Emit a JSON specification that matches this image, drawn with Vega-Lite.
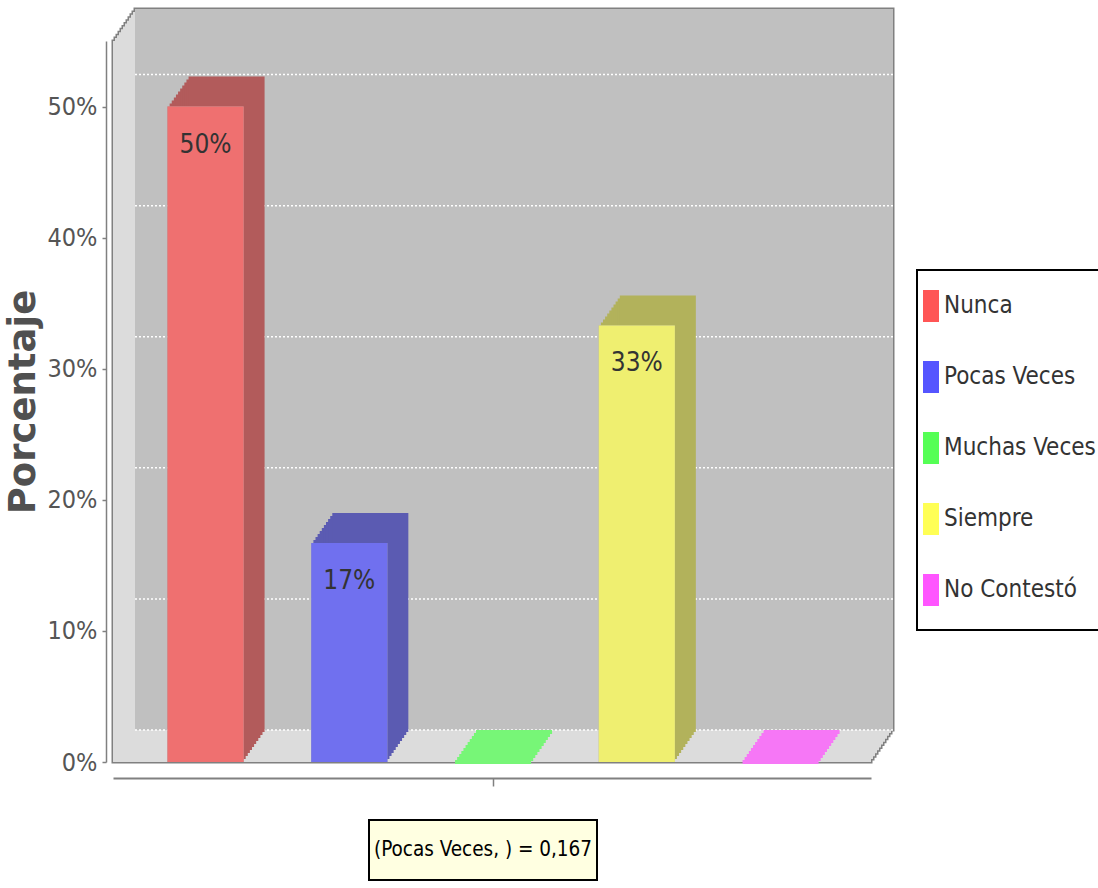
{
"$schema": "https://vega.github.io/schema/vega-lite/v6.json",
"width": 758, "height": 721,
"autosize": {"type": "none"},
"padding": {"left": 113, "top": 41, "right": 227, "bottom": 126},
"background": "white",
"config": {"view": {"stroke": null}, "font": "DejaVu Sans Condensed"},
"data": {"values": [
 {"serie": "Nunca", "valor": 0.5},
 {"serie": "Pocas Veces", "valor": 0.167},
 {"serie": "Muchas Veces", "valor": 0},
 {"serie": "Siempre", "valor": 0.333},
 {"serie": "No Contestó", "valor": 0}
]},
"resolve": {"scale": {"x": "independent"}, "axis": {"x": "independent", "y": "independent"}},
"layer": [
 {"transform": [{"aggregate": [{"op": "count", "as": "n"}]}],
  "encoding": {
   "x": {"datum": 0, "type": "quantitative", "scale": {"domain": [0, 1], "nice": false, "zero": false}, "axis": null},
   "x2": {"datum": 1},
   "y": {"datum": 0, "type": "quantitative", "axis": null},
   "y2": {"datum": 0.55}
  },
  "layer": [
   {"mark": {"type": "rect", "fill": "#dcdcdc", "stroke": "#808080", "strokeWidth": 3, "xOffset": 0, "x2Offset": 0, "yOffset": 0, "y2Offset": 0}},
   {"mark": {"type": "rect", "fill": "#dcdcdc", "stroke": "#808080", "strokeWidth": 3, "xOffset": 2, "x2Offset": 2, "yOffset": -2.91, "y2Offset": -2.91}},
   {"mark": {"type": "rect", "fill": "#dcdcdc", "stroke": "#808080", "strokeWidth": 3, "xOffset": 4, "x2Offset": 4, "yOffset": -5.82, "y2Offset": -5.82}},
   {"mark": {"type": "rect", "fill": "#dcdcdc", "stroke": "#808080", "strokeWidth": 3, "xOffset": 6, "x2Offset": 6, "yOffset": -8.73, "y2Offset": -8.73}},
   {"mark": {"type": "rect", "fill": "#dcdcdc", "stroke": "#808080", "strokeWidth": 3, "xOffset": 8, "x2Offset": 8, "yOffset": -11.64, "y2Offset": -11.64}},
   {"mark": {"type": "rect", "fill": "#dcdcdc", "stroke": "#808080", "strokeWidth": 3, "xOffset": 10, "x2Offset": 10, "yOffset": -14.55, "y2Offset": -14.55}},
   {"mark": {"type": "rect", "fill": "#dcdcdc", "stroke": "#808080", "strokeWidth": 3, "xOffset": 12, "x2Offset": 12, "yOffset": -17.45, "y2Offset": -17.45}},
   {"mark": {"type": "rect", "fill": "#dcdcdc", "stroke": "#808080", "strokeWidth": 3, "xOffset": 14, "x2Offset": 14, "yOffset": -20.36, "y2Offset": -20.36}},
   {"mark": {"type": "rect", "fill": "#dcdcdc", "stroke": "#808080", "strokeWidth": 3, "xOffset": 16, "x2Offset": 16, "yOffset": -23.27, "y2Offset": -23.27}},
   {"mark": {"type": "rect", "fill": "#dcdcdc", "stroke": "#808080", "strokeWidth": 3, "xOffset": 18, "x2Offset": 18, "yOffset": -26.18, "y2Offset": -26.18}},
   {"mark": {"type": "rect", "fill": "#dcdcdc", "stroke": "#808080", "strokeWidth": 3, "xOffset": 20, "x2Offset": 20, "yOffset": -29.09, "y2Offset": -29.09}},
   {"mark": {"type": "rect", "fill": "#dcdcdc", "stroke": "#808080", "strokeWidth": 3, "xOffset": 22, "x2Offset": 22, "yOffset": -32, "y2Offset": -32}},
   {"mark": {"type": "rect", "fill": "#dcdcdc", "xOffset": 0, "x2Offset": 0, "yOffset": 0, "y2Offset": 0}},
   {"mark": {"type": "rect", "fill": "#dcdcdc", "xOffset": 2, "x2Offset": 2, "yOffset": -2.91, "y2Offset": -2.91}},
   {"mark": {"type": "rect", "fill": "#dcdcdc", "xOffset": 4, "x2Offset": 4, "yOffset": -5.82, "y2Offset": -5.82}},
   {"mark": {"type": "rect", "fill": "#dcdcdc", "xOffset": 6, "x2Offset": 6, "yOffset": -8.73, "y2Offset": -8.73}},
   {"mark": {"type": "rect", "fill": "#dcdcdc", "xOffset": 8, "x2Offset": 8, "yOffset": -11.64, "y2Offset": -11.64}},
   {"mark": {"type": "rect", "fill": "#dcdcdc", "xOffset": 10, "x2Offset": 10, "yOffset": -14.55, "y2Offset": -14.55}},
   {"mark": {"type": "rect", "fill": "#dcdcdc", "xOffset": 12, "x2Offset": 12, "yOffset": -17.45, "y2Offset": -17.45}},
   {"mark": {"type": "rect", "fill": "#dcdcdc", "xOffset": 14, "x2Offset": 14, "yOffset": -20.36, "y2Offset": -20.36}},
   {"mark": {"type": "rect", "fill": "#dcdcdc", "xOffset": 16, "x2Offset": 16, "yOffset": -23.27, "y2Offset": -23.27}},
   {"mark": {"type": "rect", "fill": "#dcdcdc", "xOffset": 18, "x2Offset": 18, "yOffset": -26.18, "y2Offset": -26.18}},
   {"mark": {"type": "rect", "fill": "#dcdcdc", "xOffset": 20, "x2Offset": 20, "yOffset": -29.09, "y2Offset": -29.09}},
   {"mark": {"type": "rect", "fill": "#dcdcdc", "xOffset": 22, "x2Offset": 22, "yOffset": -32, "y2Offset": -32}},
   {"mark": {"type": "rect", "fill": "#c0c0c0", "xOffset": 22, "x2Offset": 22, "yOffset": -32, "y2Offset": -32}},
   {"mark": {"type": "rule", "color": "#ffffff", "strokeWidth": 1.5, "strokeDash": [2, 2], "xOffset": 22, "x2Offset": 22, "yOffset": -32},
    "encoding": {"y": {"datum": 0, "type": "quantitative", "axis": null}, "y2": null}},
   {"mark": {"type": "rule", "color": "#ffffff", "strokeWidth": 1.5, "strokeDash": [2, 2], "xOffset": 22, "x2Offset": 22, "yOffset": -32},
    "encoding": {"y": {"datum": 0.1, "type": "quantitative", "axis": null}, "y2": null}},
   {"mark": {"type": "rule", "color": "#ffffff", "strokeWidth": 1.5, "strokeDash": [2, 2], "xOffset": 22, "x2Offset": 22, "yOffset": -32},
    "encoding": {"y": {"datum": 0.2, "type": "quantitative", "axis": null}, "y2": null}},
   {"mark": {"type": "rule", "color": "#ffffff", "strokeWidth": 1.5, "strokeDash": [2, 2], "xOffset": 22, "x2Offset": 22, "yOffset": -32},
    "encoding": {"y": {"datum": 0.3, "type": "quantitative", "axis": null}, "y2": null}},
   {"mark": {"type": "rule", "color": "#ffffff", "strokeWidth": 1.5, "strokeDash": [2, 2], "xOffset": 22, "x2Offset": 22, "yOffset": -32},
    "encoding": {"y": {"datum": 0.4, "type": "quantitative", "axis": null}, "y2": null}},
   {"mark": {"type": "rule", "color": "#ffffff", "strokeWidth": 1.5, "strokeDash": [2, 2], "xOffset": 22, "x2Offset": 22, "yOffset": -32},
    "encoding": {"y": {"datum": 0.5, "type": "quantitative", "axis": null}, "y2": null}}
  ]
 },
 {"encoding": {
   "x": {"field": "serie", "type": "nominal",
         "sort": ["Nunca", "Pocas Veces", "Muchas Veces", "Siempre", "No Contestó"],
         "scale": {"domain": ["Nunca", "Pocas Veces", "Muchas Veces", "Siempre", "No Contestó"], "paddingInner": 0.471, "paddingOuter": 0.372, "align": 0.51},
         "axis": {"orient": "bottom", "offset": 16, "values": ["Muchas Veces"], "labels": false, "ticks": true, "tickSize": 8, "tickColor": "#808080", "tickWidth": 1.5, "domainColor": "#808080", "domainWidth": 2, "title": null, "grid": false}},
   "y": {"field": "valor", "type": "quantitative",
         "scale": {"domain": [0, 0.55], "nice": false, "zero": true},
         "axis": {"orient": "left", "offset": 7, "values": [0, 0.1, 0.2, 0.3, 0.4, 0.5], "format": ".0%", "grid": false,
                  "domainColor": "#808080", "domainWidth": 1.5, "tickColor": "#808080", "tickSize": 4, "tickWidth": 1.5,
                  "labelFont": "DejaVu Sans Condensed", "labelFontSize": 25, "labelColor": "#555555", "labelPadding": 5,
                  "title": "Porcentaje", "titleFont": "DejaVu Sans", "titleFontWeight": "bold", "titleFontSize": 37, "titleColor": "#505050", "titlePadding": 5}}
  },
  "layer": [
   {"mark": {"type": "bar", "strokeWidth": 4, "xOffset": 0, "x2Offset": 0, "yOffset": 0, "y2Offset": 0},
    "encoding": {"fill": {"field": "serie", "type": "nominal", "sort": "ascending", "scale": {"range": ["#77f677", "#f677f6", "#b25b5b", "#5b5bb2", "#b2b25b"]}, "legend": null},
                 "stroke": {"field": "serie", "type": "nominal", "sort": "ascending", "scale": {"range": ["#77f677", "#f677f6", "#b25b5b", "#5b5bb2", "#b2b25b"]}, "legend": null},
                 "strokeOpacity": {"condition": {"test": "datum.valor == 0", "value": 1}, "value": 0}}},
   {"mark": {"type": "bar", "strokeWidth": 4, "xOffset": 2.1, "x2Offset": 2.1, "yOffset": -3, "y2Offset": -3},
    "encoding": {"fill": {"field": "serie", "type": "nominal", "sort": "ascending", "legend": null}, "stroke": {"field": "serie", "type": "nominal", "sort": "ascending", "legend": null},
                 "strokeOpacity": {"condition": {"test": "datum.valor == 0", "value": 1}, "value": 0}}},
   {"mark": {"type": "bar", "strokeWidth": 4, "xOffset": 4.2, "x2Offset": 4.2, "yOffset": -6, "y2Offset": -6},
    "encoding": {"fill": {"field": "serie", "type": "nominal", "sort": "ascending", "legend": null}, "stroke": {"field": "serie", "type": "nominal", "sort": "ascending", "legend": null},
                 "strokeOpacity": {"condition": {"test": "datum.valor == 0", "value": 1}, "value": 0}}},
   {"mark": {"type": "bar", "strokeWidth": 4, "xOffset": 6.3, "x2Offset": 6.3, "yOffset": -9, "y2Offset": -9},
    "encoding": {"fill": {"field": "serie", "type": "nominal", "sort": "ascending", "legend": null}, "stroke": {"field": "serie", "type": "nominal", "sort": "ascending", "legend": null},
                 "strokeOpacity": {"condition": {"test": "datum.valor == 0", "value": 1}, "value": 0}}},
   {"mark": {"type": "bar", "strokeWidth": 4, "xOffset": 8.4, "x2Offset": 8.4, "yOffset": -12, "y2Offset": -12},
    "encoding": {"fill": {"field": "serie", "type": "nominal", "sort": "ascending", "legend": null}, "stroke": {"field": "serie", "type": "nominal", "sort": "ascending", "legend": null},
                 "strokeOpacity": {"condition": {"test": "datum.valor == 0", "value": 1}, "value": 0}}},
   {"mark": {"type": "bar", "strokeWidth": 4, "xOffset": 10.5, "x2Offset": 10.5, "yOffset": -15, "y2Offset": -15},
    "encoding": {"fill": {"field": "serie", "type": "nominal", "sort": "ascending", "legend": null}, "stroke": {"field": "serie", "type": "nominal", "sort": "ascending", "legend": null},
                 "strokeOpacity": {"condition": {"test": "datum.valor == 0", "value": 1}, "value": 0}}},
   {"mark": {"type": "bar", "strokeWidth": 4, "xOffset": 12.6, "x2Offset": 12.6, "yOffset": -18, "y2Offset": -18},
    "encoding": {"fill": {"field": "serie", "type": "nominal", "sort": "ascending", "legend": null}, "stroke": {"field": "serie", "type": "nominal", "sort": "ascending", "legend": null},
                 "strokeOpacity": {"condition": {"test": "datum.valor == 0", "value": 1}, "value": 0}}},
   {"mark": {"type": "bar", "strokeWidth": 4, "xOffset": 14.7, "x2Offset": 14.7, "yOffset": -21, "y2Offset": -21},
    "encoding": {"fill": {"field": "serie", "type": "nominal", "sort": "ascending", "legend": null}, "stroke": {"field": "serie", "type": "nominal", "sort": "ascending", "legend": null},
                 "strokeOpacity": {"condition": {"test": "datum.valor == 0", "value": 1}, "value": 0}}},
   {"mark": {"type": "bar", "strokeWidth": 4, "xOffset": 16.8, "x2Offset": 16.8, "yOffset": -24, "y2Offset": -24},
    "encoding": {"fill": {"field": "serie", "type": "nominal", "sort": "ascending", "legend": null}, "stroke": {"field": "serie", "type": "nominal", "sort": "ascending", "legend": null},
                 "strokeOpacity": {"condition": {"test": "datum.valor == 0", "value": 1}, "value": 0}}},
   {"mark": {"type": "bar", "strokeWidth": 4, "xOffset": 18.9, "x2Offset": 18.9, "yOffset": -27, "y2Offset": -27},
    "encoding": {"fill": {"field": "serie", "type": "nominal", "sort": "ascending", "legend": null}, "stroke": {"field": "serie", "type": "nominal", "sort": "ascending", "legend": null},
                 "strokeOpacity": {"condition": {"test": "datum.valor == 0", "value": 1}, "value": 0}}},
   {"mark": {"type": "bar", "strokeWidth": 4, "xOffset": 21, "x2Offset": 21, "yOffset": -30, "y2Offset": -30},
    "encoding": {"fill": {"field": "serie", "type": "nominal", "sort": "ascending", "legend": null}, "stroke": {"field": "serie", "type": "nominal", "sort": "ascending", "legend": null},
                 "strokeOpacity": {"condition": {"test": "datum.valor == 0", "value": 1}, "value": 0}}},
   {"mark": {"type": "bar", "fill": "#c0c0c0"}},
   {"mark": {"type": "bar", "fillOpacity": 0.75},
    "encoding": {"color": {"field": "serie", "type": "nominal",
       "scale": {"domain": ["Nunca", "Pocas Veces", "Muchas Veces", "Siempre", "No Contestó"], "range": ["#ff5555", "#5555ff", "#55ff55", "#ffff55", "#ff55ff"]},
       "legend": {"title": null, "orient": "none", "legendX": 804, "legendY": 229,
                  "symbolType": "M-3.75,-2H-1.75V2H-3.75Z", "symbolSize": 256, "symbolOpacity": 1, "symbolStrokeWidth": 0,
                  "labelFont": "DejaVu Sans Condensed", "labelFontSize": 24, "labelColor": "#333333", "labelOffset": -21, "labelLimit": 0,
                  "rowPadding": 39, "padding": 24, "strokeColor": "#000000", "fillColor": "#ffffff",
                  "encode": {"legend": {"update": {"strokeWidth": {"value": 2}}}}}}}},
   {"transform": [{"filter": "datum.valor > 0"}],
    "mark": {"type": "text", "font": "DejaVu Sans Condensed", "fontSize": 26, "color": "#333333", "baseline": "middle", "align": "center", "dy": 38},
    "encoding": {"text": {"field": "valor", "type": "quantitative", "format": ".0%"}}}
  ]
 },
 {"transform": [{"filter": "datum.serie == 'Pocas Veces'"}],
  "layer": [
   {"mark": {"type": "point", "shape": "M-114,-30H114V30H-114Z", "size": 4, "filled": true, "fill": "#ffffe1", "stroke": "#000000", "strokeWidth": 2, "opacity": 1, "xOffset": -9, "yOffset": 88},
    "encoding": {"y": {"datum": 0, "type": "quantitative", "axis": null}}},
   {"mark": {"type": "text", "text": "(Pocas Veces, ) = 0,167", "font": "DejaVu Sans Condensed", "fontSize": 20.5, "color": "#000000", "align": "center", "baseline": "middle", "xOffset": -9, "yOffset": 88},
    "encoding": {"y": {"datum": 0, "type": "quantitative", "axis": null}}}
  ]
 }
]
}
